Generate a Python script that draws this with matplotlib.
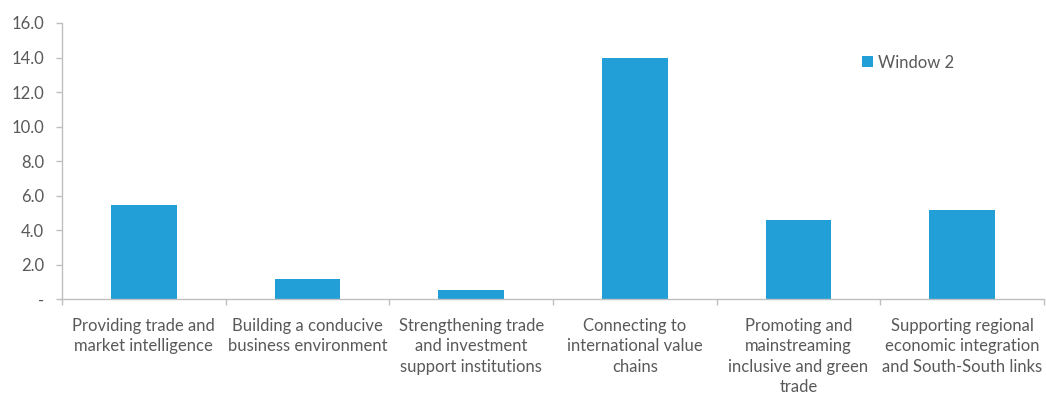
import numpy as np
import matplotlib.pyplot as plt
from matplotlib.ticker import FuncFormatter

# Data
categories = [
  'Providing trade and\nmarket intelligence',
  'Building a conducive\nbusiness environment',
  'Strengthening trade\nand investment\nsupport institutions',
  'Connecting to\ninternational value\nchains',
  'Promoting and\nmainstreaming\ninclusive and green\ntrade',
  'Supporting regional\neconomic integration\nand South-South links',
]
window2 = [5.47, 1.19, 0.54, 13.97, 4.58, 5.16]
y_ticks = [0, 2, 4, 6, 8, 10, 12, 14, 16]

bar_color = '#229FD7'
axis_color = '#BFBFBF'
text_color = '#595959'

plt.rcParams['font.family'] = ['Lato', 'DejaVu Sans']

fig = plt.figure(figsize=(10.46, 3.95), dpi=100, facecolor='white')
ax = fig.add_axes([0.0593, 0.2418, 0.9387, 0.7])

x = np.arange(len(categories))
ax.bar(x, window2, width=0.4, color=bar_color, label='Window 2', zorder=2)

ax.set_xlim(-0.5, len(categories) - 0.5)
ax.set_ylim(0, 16)
ax.set_yticks(y_ticks)
ax.yaxis.set_major_formatter(FuncFormatter(lambda v, p: '-' if v == 0 else f'{v:.1f}'))

# category labels centred, tick marks at boundaries
ax.set_xticks(x)
ax.set_xticklabels(categories, fontsize=12, color=text_color, linespacing=1.32)
ax.tick_params(axis='x', which='major', length=0, pad=13.5)
ax.set_xticks(np.arange(-0.5, len(categories) + 0.5, 1), minor=True)
ax.tick_params(axis='x', which='minor', length=4, color=axis_color, width=1)

ax.tick_params(axis='y', length=4, color=axis_color, width=1,
               labelsize=12, labelcolor=text_color, pad=9)

for side in ['top', 'right']:
  ax.spines[side].set_visible(False)
for side in ['left', 'bottom']:
  ax.spines[side].set_color(axis_color)
  ax.spines[side].set_linewidth(1)

leg = ax.legend(loc='center left', bbox_to_anchor=(0.815, 0.857), frameon=False,
                fontsize=12, handlelength=0.65, handleheight=0.65,
                handletextpad=0.3, borderpad=0, borderaxespad=0)
for t in leg.get_texts():
  t.set_color(text_color)

fig.savefig('out.png', dpi=100, facecolor='white')
